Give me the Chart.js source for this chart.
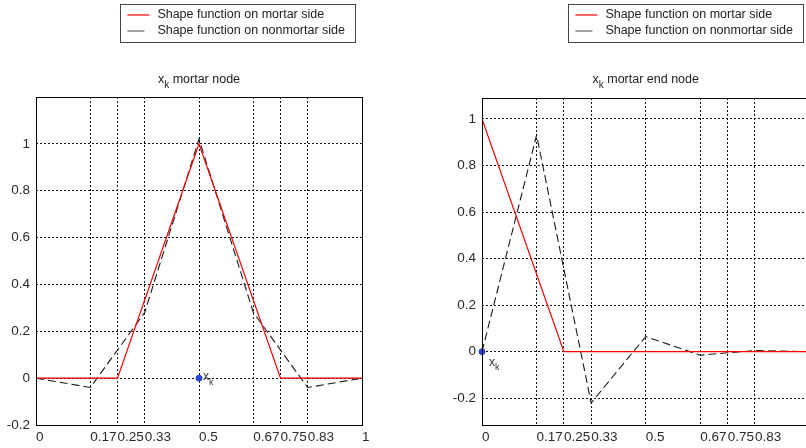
<!DOCTYPE html>
<html>
<head>
<meta charset="utf-8">
<script src="https://cdn.jsdelivr.net/npm/chart.js@4.4.0/dist/chart.umd.min.js"></script>
<style>
  html, body { margin: 0; padding: 0; background: #fff; }
  body { width: 806px; height: 448px; overflow: hidden; position: relative; }
  #left { position: absolute; left: 0; top: 0; }
  #right { position: absolute; left: 403px; top: 0; }
</style>
</head>
<body>
<canvas id="left" width="403" height="448"></canvas>
<canvas id="right" width="430" height="448"></canvas>
<script>
// --- Data ---
const xTicks = [0, 1/6, 0.25, 1/3, 0.5, 2/3, 0.75, 5/6, 1];
const xTickLabels = ['0', '0.17', '0.25', '0.33', '0.5', '0.67', '0.75', '0.83', '1'];
const yTicks = [-0.2, 0, 0.2, 0.4, 0.6, 0.8, 1];

const mortarX = [0, 0.25, 0.5, 0.75, 1];
const nonmortarX = [0, 1/6, 1/3, 0.5, 2/3, 5/6, 1];

// x_k mortar node
const leftMortarY = [0, 0, 1, 0, 0];
const leftNonmortarY = [0, -0.04, 0.28, 1.02, 0.28, -0.04, 0];
const leftNode = [0.5, 0];

// x_k mortar end node
const rightMortarY = [1, 0, 0, 0, 0];
const rightNonmortarY = [0, 0.93, -0.22, 0.065, -0.015, 0.005, 0];
const rightNode = [0, 0];

const seriesLabels = ['Shape function on mortar side', 'Shape function on nonmortar side'];

const FONT = '"Liberation Sans", Arial, sans-serif';
Chart.defaults.font.family = FONT;
Chart.defaults.font.size = 13.5;
Chart.defaults.color = '#2a2a2a';

// draws "x" with a subscript "k", returns its width
function drawXk(ctx, x, y, size, measureOnly) {
  ctx.font = size + 'px ' + FONT;
  const w = ctx.measureText('x').width;
  if (!measureOnly) ctx.fillText('x', x, y);
  ctx.font = Math.round(size * 0.78) + 'px ' + FONT;
  const wk = ctx.measureText('k').width;
  if (!measureOnly) ctx.fillText('k', x + w, y + size * 0.38);
  return w + wk;
}

const decorPlugin = {
  id: 'decor',
  afterDraw(chart, args, opts) {
    const ctx = chart.ctx;
    const a = chart.chartArea;
    ctx.save();

    // axes box
    ctx.strokeStyle = '#000';
    ctx.lineWidth = 1;
    ctx.setLineDash([]);
    const l = Math.round(a.left) + 0.5, r = Math.round(a.right) + 0.5;
    const t = Math.round(a.top) + 0.5, b = Math.round(a.bottom) + 0.5;
    ctx.strokeRect(l, t, r - l, b - t);

    // title with subscript
    ctx.fillStyle = '#222';
    ctx.textBaseline = 'alphabetic';
    ctx.textAlign = 'left';
    const size = 12.5;
    const wx = drawXk(ctx, 0, 0, size, true);
    ctx.font = size + 'px ' + FONT;
    const rest = ' ' + opts.title;
    const total = wx + ctx.measureText(rest).width;
    let tx = (a.left + a.right) / 2 - total / 2;
    drawXk(ctx, tx, 83, size);
    ctx.font = size + 'px ' + FONT;
    ctx.fillText(rest, tx + wx, 83);

    // node label next to the blue marker
    const node = chart.data.datasets[0].data[0];
    const px = chart.scales.x.getPixelForValue(node.x);
    const py = chart.scales.y.getPixelForValue(node.y);
    ctx.fillStyle = '#333';
    drawXk(ctx, px + opts.labelDx, py + opts.labelDy, 12);

    // legend box
    ctx.font = size + 'px ' + FONT;
    const textW = Math.max(...seriesLabels.map(s => ctx.measureText(s).width));
    const boxW = 37 + textW + 10;
    const boxR = Math.round(a.right) - 7;
    const boxL = boxR - boxW;
    const boxT = 4, boxH = 38;
    ctx.fillStyle = '#fff';
    ctx.fillRect(boxL, boxT, boxW, boxH);
    ctx.strokeStyle = '#444';
    ctx.strokeRect(Math.round(boxL) + 0.5, boxT + 0.5, Math.round(boxW), boxH);
    const rows = [boxT + 11, boxT + 26.5];
    // mortar sample
    ctx.strokeStyle = '#ff0000';
    ctx.lineWidth = 1.2;
    ctx.beginPath(); ctx.moveTo(boxL + 7, rows[0]); ctx.lineTo(boxL + 29, rows[0]); ctx.stroke();
    // nonmortar sample
    ctx.strokeStyle = '#444';
    ctx.lineWidth = 1;
    ctx.beginPath(); ctx.moveTo(boxL + 7, rows[1] + 0.5); ctx.lineTo(boxL + 24, rows[1] + 0.5); ctx.stroke();
    ctx.fillStyle = '#222';
    ctx.textBaseline = 'middle';
    seriesLabels.forEach((s, i) => ctx.fillText(s, boxL + 37, rows[i]));

    ctx.restore();
  }
};

function makeChart(id, cfg) {
  return new Chart(document.getElementById(id), {
    type: 'line',
    data: {
      datasets: [
        {
          label: 'x_k',
          data: [{ x: cfg.node[0], y: cfg.node[1] }],
          showLine: false,
          pointRadius: 3,
          pointBackgroundColor: '#2a44d8',
          pointBorderColor: '#2a44d8',
          clip: false,
          order: 0
        },
        {
          label: seriesLabels[0],
          data: mortarX.map((x, i) => ({ x: x, y: cfg.mortar[i] })),
          borderColor: '#ff0000',
          borderWidth: 1.2,
          pointRadius: 0,
          tension: 0,
          order: 1
        },
        {
          label: seriesLabels[1],
          data: nonmortarX.map((x, i) => ({ x: x, y: cfg.nonmortar[i] })),
          borderColor: '#1a1a1a',
          borderWidth: 1.1,
          borderDash: [8, 4],
          pointRadius: 0,
          tension: 0,
          order: 2
        }
      ]
    },
    options: {
      responsive: false,
      animation: false,
      devicePixelRatio: 1,
      layout: { padding: { top: cfg.top, right: cfg.padRight, left: 0, bottom: 0 } },
      plugins: {
        legend: { display: false },
        tooltip: { enabled: false },
        decor: { title: cfg.title, labelDx: cfg.labelDx, labelDy: cfg.labelDy }
      },
      scales: {
        x: {
          type: 'linear',
          min: 0,
          max: 1,
          afterBuildTicks: s => { s.ticks = xTicks.map(v => ({ value: v })); },
          afterFit: s => { s.height = 23; },
          ticks: {
            callback: v => xTickLabels[xTicks.indexOf(v)],
            align: 'start',
            padding: 4,
            maxRotation: 0,
            autoSkip: false
          },
          grid: { color: '#111', lineWidth: 1, drawTicks: false, tickLength: 0 },
          border: { display: false, dash: [2, 2] }
        },
        y: {
          type: 'linear',
          min: cfg.yMin,
          max: cfg.yMax,
          afterBuildTicks: s => { s.ticks = yTicks.map(v => ({ value: v })); },
          afterFit: s => { s.width = cfg.axisLeft; },
          ticks: {
            callback: v => String(Math.round(v * 10) / 10),
            padding: 6
          },
          grid: { color: '#111', lineWidth: 1, drawTicks: false, tickLength: 0 },
          border: { display: false, dash: [2, 2] }
        }
      }
    },
    plugins: [decorPlugin]
  });
}

makeChart('left', {
  title: 'mortar node',
  mortar: leftMortarY,
  nonmortar: leftNonmortarY,
  node: leftNode,
  yMin: -0.2, yMax: 1.2,
  top: 97, padRight: 41, axisLeft: 36,
  labelDx: 4, labelDy: 2
});

makeChart('right', {
  title: 'mortar end node',
  mortar: rightMortarY,
  nonmortar: rightNonmortarY,
  node: rightNode,
  yMin: -0.315, yMax: 1.09,
  top: 98, padRight: 23.5, axisLeft: 79,
  labelDx: 7, labelDy: 14
});
</script>
</body>
</html>
